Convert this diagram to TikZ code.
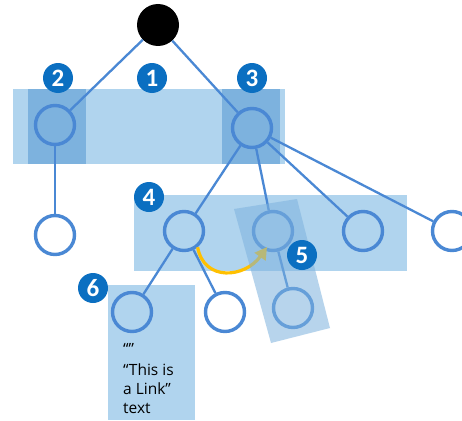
\documentclass[tikz,border=0pt]{standalone}
\usepackage{fontspec}
\setmainfont{Open Sans}
\newfontfamily\badgefont{Carlito}
\usetikzlibrary{arrows.meta}
\definecolor{bandblue}{HTML}{B0D4EE}
\definecolor{boxblue}{HTML}{7DB2DE}
\definecolor{ringblue}{HTML}{4A88D4}
\definecolor{badgeblue}{HTML}{0B6FC1}
\definecolor{linkgold}{HTML}{FFC000}
\begin{document}
\begin{tikzpicture}[x=1pt,y=-1pt,
    band/.style={fill=bandblue},
    darkbox/.style={fill=boxblue},
    ring/.style={draw=ringblue,line width=3.4pt,circle,inner sep=0pt,minimum size=39pt},
    edge/.style={draw=ringblue,line width=2.3pt},
    badge/.style={fill=badgeblue,circle,inner sep=0pt,minimum size=30pt,text=white,font=\badgefont\bfseries\fontsize{25}{25}\selectfont}]
                \useasboundingbox[fill=white] (0,0) rectangle (462,420);
                % bands and highlighted boxes
                \fill[band] (13,89) rectangle (285,164);
                \fill[darkbox] (28,89) rectangle (86,164);
                \fill[darkbox] (222,89) rectangle (280,164);
                \fill[band] (134,195) rectangle (407,271);
                \fill[band] (108,285) rectangle (195,420);
                % tree
                \node[fill=black,circle,inner sep=0pt,minimum size=42pt] (root) at (158,25) {};
                \node[ring] (L) at (55,125) {};
                \node[ring] (R) at (252,128) {};
                \node[ring] (LA) at (55,235) {};
                \node[ring] (RA) at (184,231) {};
                \node[ring] (RB) at (273,231) {};
                \node[ring] (RC) at (363,231) {};
                \node[ring] (RD) at (452,231) {};
                \node[ring] (RAA) at (132,312) {};
                \node[ring] (RAB) at (225,312) {};
                \node[ring] (RBA) at (293,308) {};
                \draw[edge] (root) -- (L);
                \draw[edge] (root) -- (R);
                \draw[edge] (L) -- (LA);
                \draw[edge] (R) -- (RA);
                \draw[edge] (R) -- (RB);
                \draw[edge] (R) -- (RC);
                \draw[edge] (R) -- (RD);
                \draw[edge] (RA) -- (RAA);
                \draw[edge] (RA) -- (RAB);
                \draw[edge] (RB) -- (RBA);
                % link arrow
                \coordinate (linkend) at (267,247);
                \draw[linkgold,line width=3.2pt,-{Triangle[length=12pt,width=13pt]}] (RA.-50) .. controls (204,282) and (245,278) .. (linkend);
                % rotated box over the link
                \fill[boxblue,fill opacity=0.55] (234,209) -- (297,199) -- (330,328) -- (271,343) -- cycle;
                % badges
                \node[badge] (b1) at (152,78) {1};
                \node[badge] (b2) at (58,78) {2};
                \node[badge] (b3) at (252,78) {3};
                \node[badge] (b4) at (149,197) {4};
                \node[badge] (b5) at (302,255) {5};
                \node[badge] (b6) at (93,288) {6};
                % text
                \node[anchor=north west,align=left,font=\fontsize{15.5}{19}\selectfont,inner sep=0pt] (txt) at (123,343) {“”\\[2pt]“This is\\a Link”\\text};
            \end{tikzpicture}
\end{document}
